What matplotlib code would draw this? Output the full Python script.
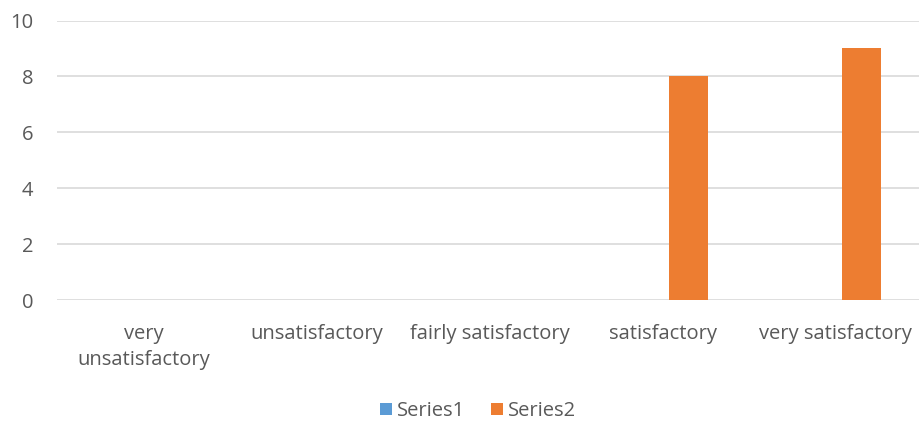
import numpy as np
import matplotlib.pyplot as plt

categories = ['very\nunsatisfactory', 'unsatisfactory', 'fairly satisfactory',
              'satisfactory', 'very satisfactory']
series1 = [0, 0, 0, 0, 0]
series2 = [0, 0, 0, 8, 9]
yticks = [0, 2, 4, 6, 8, 10]

plt.rcParams['font.family'] = ['Open Sans', 'DejaVu Sans']
grey = '#595959'

fig = plt.figure(figsize=(9.19, 4.24), dpi=100)
ax = fig.add_axes([57 / 919, 1 - 300 / 424, 862 / 919, 279.5 / 424])

x = np.arange(len(categories))
w = 0.225
ax.bar(x - 0.15, series1, w, color='#5B9BD5', label='Series1', zorder=3)
ax.bar(x + 0.15, series2, w, color='#ED7D31', label='Series2', zorder=3)

ax.set_xlim(-0.5, -0.5 + 862 / 173)
ax.set_ylim(0, 10)
ax.set_yticks(yticks)
ax.yaxis.grid(True, color='#D9D9D9', linewidth=1.2, zorder=0)
for s in ax.spines.values():
    s.set_visible(False)
ax.tick_params(axis='both', length=0, labelsize=14.5, colors=grey)
ax.tick_params(axis='y', pad=17)
ax.tick_params(axis='x', pad=17)
ax.set_xticks(x)
ax.set_xticklabels(categories, linespacing=1.45)

fig.legend(loc='center', bbox_to_anchor=(478 / 919, 1 - 411 / 424), ncol=2,
           frameon=False, fontsize=14.5, labelcolor=grey, handlelength=0.6,
           handleheight=0.6, handletextpad=0.25, columnspacing=1.3)

fig.savefig('out.png', dpi=100)
